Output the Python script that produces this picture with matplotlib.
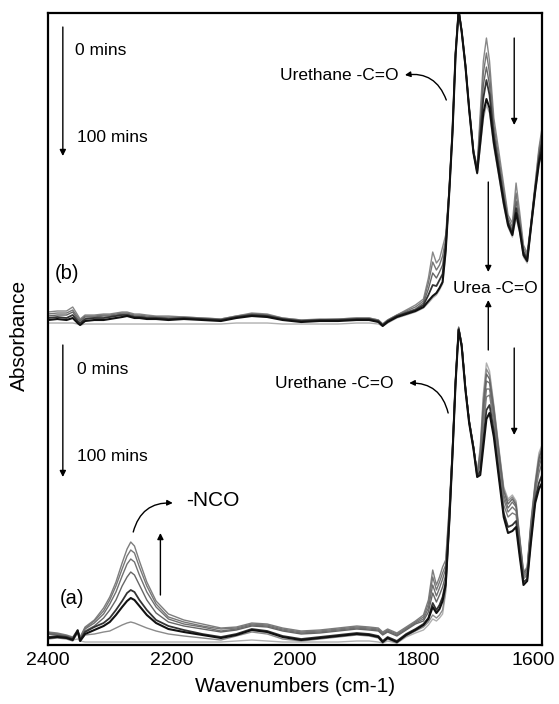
import matplotlib
matplotlib.use('Agg')
import matplotlib.pyplot as plt
import matplotlib.transforms as mtransforms

plt.rcParams['font.family'] = ['Liberation Sans', 'DejaVu Sans']

# wavenumber grid shared by all spectra (cm-1)
wavenumbers = [2400, 2385, 2370, 2360, 2352, 2348, 2340, 2325, 2310, 2300,
               2290, 2280, 2272, 2266, 2260, 2252, 2240, 2225, 2205, 2180,
               2150, 2120, 2095, 2070, 2045, 2020, 1990, 1960, 1930, 1900,
               1880, 1865, 1858, 1850, 1835, 1820, 1805, 1792, 1784, 1777,
               1771, 1766, 1761, 1756, 1750, 1745, 1740, 1735, 1730, 1724,
               1718, 1711, 1705, 1700, 1695, 1690, 1685, 1678, 1670, 1662,
               1655, 1648, 1642, 1636, 1630, 1624, 1618, 1611, 1605, 1600]

# spectra (a), absorbance in arbitrary units
a_1 = [13, 12, 10, 8, 15, 8, 18, 25, 37, 48, 63, 82, 96, 103, 99, 84, 63, 44, 31, 25,
       21, 17, 18, 22, 21, 17, 14, 15, 17, 19, 18, 17, 13, 16, 12, 18, 24,
       30, 45, 75, 60, 68, 78, 85, 140, 198, 266, 317, 301, 258, 225, 199, 172, 180, 218,
       248, 250, 222, 180, 140, 128, 132, 130, 98, 66, 70, 112, 152, 172, 182]
a_2 = [12, 11, 9, 7, 14, 7, 17, 24, 34, 45, 59, 76, 89, 95, 92, 78, 59, 41, 28, 23,
       19, 16, 17, 21, 20, 16, 13, 14, 16, 18, 17, 16, 12, 15, 11, 17, 23,
       28, 41, 68, 55, 63, 72, 80, 137, 196, 265, 317, 300, 257, 224, 198, 171, 184, 226,
       256, 256, 228, 186, 146, 133, 138, 134, 100, 68, 72, 116, 156, 178, 188]
a_3 = [12, 11, 9, 7, 14, 7, 16, 22, 31, 41, 53, 69, 81, 86, 83, 70, 53, 38, 26, 21,
       18, 14, 16, 20, 19, 15, 12, 13, 15, 17, 16, 15, 11, 14, 10, 16, 22,
       26, 37, 60, 49, 57, 66, 76, 134, 195, 265, 318, 301, 258, 225, 199, 172, 188, 234,
       264, 262, 232, 190, 150, 137, 143, 138, 103, 70, 74, 118, 158, 182, 192]
a_4 = [11, 10, 9, 7, 14, 6, 14, 19, 27, 35, 45, 59, 68, 73, 70, 60, 45, 32, 23, 19,
       16, 13, 15, 19, 18, 14, 11, 12, 14, 16, 15, 14, 10, 13, 9, 15, 21,
       24, 33, 52, 43, 50, 58, 70, 131, 193, 264, 317, 300, 257, 224, 198, 171, 192, 240,
       271, 266, 236, 194, 154, 141, 146, 140, 105, 72, 76, 120, 160, 186, 196]
a_5 = [8, 9, 8, 6, 15, 5, 13, 18, 22, 27, 35, 44, 52, 55, 53, 45, 35, 25, 19, 15,
       11, 8, 11, 16, 14, 9, 6, 8, 10, 12, 11, 9, 4, 8, 4, 11, 16,
       21, 27, 42, 35, 40, 48, 63, 128, 192, 263, 316, 299, 256, 223, 197, 169, 174, 205,
       235, 240, 214, 172, 132, 118, 120, 124, 92, 63, 66, 106, 146, 162, 170]
a_6 = [7, 8, 7, 5, 14, 4, 11, 15, 19, 23, 30, 38, 44, 47, 45, 39, 30, 22, 16, 13,
       10, 7, 10, 15, 13, 8, 5, 7, 9, 11, 10, 8, 3, 7, 3, 10, 15,
       20, 26, 38, 32, 36, 44, 60, 125, 190, 262, 315, 298, 255, 222, 196, 168, 170, 198,
       226, 232, 208, 168, 128, 112, 114, 118, 88, 60, 64, 102, 142, 156, 162]
a_7 = [6, 7, 6, 4, 12, 4, 10, 11, 13, 14, 17, 20, 22, 23, 22, 20, 17, 14, 11, 9,
       7, 5, 9, 13, 11, 6, 4, 6, 8, 10, 9, 7, 2, 6, 2, 9, 14,
       18, 23, 30, 27, 30, 35, 55, 122, 188, 261, 316, 300, 257, 224, 198, 170, 196, 246,
       276, 270, 238, 196, 156, 144, 148, 142, 106, 73, 77, 122, 162, 188, 198]
a_8 = [13, 10, 7, 5, 6, 4, 3, 3, 3, 3, 3, 3, 3, 3, 3, 3, 3, 3, 3, 3,
       3, 3, 4, 5, 4, 3, 3, 3, 3, 4, 4, 3, 2, 4, 2, 8, 12,
       15, 20, 26, 24, 27, 31, 52, 120, 186, 260, 316, 300, 256, 223, 197, 170, 199, 251,
       282, 274, 240, 198, 158, 146, 150, 144, 108, 74, 78, 124, 164, 192, 200]

# spectra (b), relative to their own baseline
b_1 = [11, 12, 12, 16, 8, 4, 8, 8, 9, 9, 10, 11, 11, 10, 9, 9, 8, 7, 7, 6,
       5, 4, 7, 10, 9, 5, 3, 4, 4, 5, 5, 3, -1, 3, 8, 13, 18,
       24, 45, 71, 60, 64, 76, 88, 137, 194, 271, 314, 293, 259, 216, 173, 156, 210, 262,
       285, 262, 205, 172, 138, 108, 100, 140, 110, 78, 70, 100, 140, 175, 195]
b_2 = [9, 10, 10, 13, 6, 3, 7, 7, 8, 8, 9, 10, 10, 9, 8, 8, 7, 6, 6, 6,
       5, 4, 7, 9, 8, 5, 3, 3, 4, 5, 5, 3, -1, 3, 8, 12, 16,
       22, 40, 61, 53, 58, 67, 84, 136, 193, 270, 314, 292, 258, 215, 172, 155, 202, 250,
       270, 250, 198, 165, 133, 105, 96, 130, 104, 75, 68, 99, 138, 172, 190]
b_3 = [7, 8, 8, 11, 4, 2, 6, 6, 7, 7, 8, 9, 9, 8, 7, 7, 6, 6, 5, 5,
       4, 3, 6, 9, 8, 4, 2, 3, 3, 4, 4, 2, -2, 2, 7, 11, 14,
       20, 34, 50, 45, 51, 58, 80, 135, 192, 270, 313, 292, 258, 215, 172, 153, 195, 238,
       256, 238, 192, 160, 128, 102, 93, 122, 99, 72, 66, 97, 136, 168, 185]
b_4 = [5, 6, 5, 8, 2, 0, 4, 5, 5, 6, 7, 8, 8, 7, 6, 6, 5, 5, 4, 5,
       4, 3, 6, 8, 7, 4, 2, 3, 3, 4, 4, 2, -2, 2, 7, 10, 13,
       18, 28, 38, 37, 43, 49, 76, 134, 191, 269, 313, 291, 257, 214, 171, 152, 188, 225,
       243, 228, 186, 155, 124, 100, 90, 115, 95, 70, 64, 96, 134, 164, 180]
b_5 = [3, 4, 3, 5, 0, -2, 2, 3, 3, 4, 5, 6, 7, 6, 5, 5, 4, 4, 3, 4,
       3, 2, 5, 7, 6, 3, 1, 2, 2, 3, 3, 1, -3, 1, 6, 9, 12,
       16, 22, 27, 30, 35, 41, 72, 133, 190, 268, 312, 291, 257, 214, 170, 150, 180, 210,
       224, 215, 180, 150, 120, 98, 88, 110, 92, 68, 62, 95, 132, 160, 172]
b_6 = [0, 0, 0, 0, -1, -2, -1, -1, -1, -1, -1, -1, -1, -1, -1, -1, -1, -1, -1, -1,
       -1, -1, 0, 0, 0, -1, -1, -1, -1, 0, 0, -1, -3, 0, 5, 8, 11,
       15, 20, 25, 28, 33, 39, 70, 132, 189, 268, 312, 290, 256, 213, 170, 149, 176, 204,
       218, 210, 176, 147, 117, 96, 86, 105, 90, 66, 60, 93, 130, 157, 170]

offset_b = 322

fig = plt.figure(figsize=(5.59, 7.04), dpi=100)
ax = fig.add_axes([0.0859, 0.0838, 0.8837, 0.8977])

# (a) curves
for y, c, lw in [(a_8, '#b0b0b0', 1.0), (a_7, '#8a8a8a', 1.0), (a_1, '#7d7d7d', 1.0),
                 (a_2, '#777777', 1.0), (a_3, '#707070', 1.0), (a_4, '#666666', 1.0),
                 (a_5, '#333333', 1.3), (a_6, '#111111', 1.5)]:
    ax.plot(wavenumbers, y, color=c, lw=lw)

# (b) curves, stacked above
for y, c, lw in [(b_6, '#b0b0b0', 1.0), (b_1, '#888888', 1.0), (b_2, '#777777', 1.0),
                 (b_3, '#666666', 1.0), (b_4, '#333333', 1.3), (b_5, '#111111', 1.5)]:
    ax.plot(wavenumbers, [v + offset_b for v in y], color=c, lw=lw)

ax.set_xlim(2400, 1600)
ax.set_ylim(0, 632)
ax.set_xticks([2400, 2200, 2000, 1800, 1600])
ax.set_yticks([])
ax.tick_params(axis='x', length=0, pad=5, labelsize=14)
for s in ax.spines.values():
    s.set_linewidth(1.6)

# keep the last tick label inside the figure
last = ax.get_xticklabels()[-1]
last.set_transform(last.get_transform() +
                   mtransforms.ScaledTranslation(-6 / 72, 0, fig.dpi_scale_trans))

ax.set_xlabel('Wavenumbers (cm-1)', fontsize=15)
ax.xaxis.label.set_va('center')
ax.xaxis.set_label_coords(0.5, -0.066)
ax.set_ylabel('Absorbance', fontsize=15)
ax.yaxis.label.set_va('center')
ax.yaxis.set_label_coords(-0.057, 0.49)


def arrow(x0, y0, x1, y1, rad=0.0, ms=9):
    ax.annotate('', xy=(x1, y1), xytext=(x0, y0),
                arrowprops=dict(arrowstyle='-|>', color='black', lw=1.0,
                                mutation_scale=ms, shrinkA=0, shrinkB=0,
                                connectionstyle='arc3,rad=%s' % rad))


# (b) annotations
arrow(2376, 618, 2376, 489)
ax.text(2356, 595, '0 mins', fontsize=12.5, va='center')
ax.text(2353, 508, '100 mins', fontsize=12.5, va='center')
ax.text(2389, 372, '(b)', fontsize=14.5, va='center')
ax.text(1833, 570, 'Urethane -C=O', fontsize=12.5, va='center', ha='right')
arrow(1755, 545, 1822, 570, rad=0.4, ms=8)
arrow(1645, 607, 1645, 520)
arrow(1687, 463, 1687, 373)
ax.text(1676, 357, 'Urea -C=O', fontsize=12.5, va='center', ha='center')
arrow(1687, 295, 1687, 345)

# (a) annotations
arrow(2376, 300, 2376, 168)
ax.text(2353, 276, '0 mins', fontsize=12.5, va='center')
ax.text(2353, 189, '100 mins', fontsize=12.5, va='center')
ax.text(2381, 47, '(a)', fontsize=14.5, va='center')
ax.text(1840, 262, 'Urethane -C=O', fontsize=12.5, va='center', ha='right')
arrow(1752, 232, 1815, 262, rad=0.4, ms=8)
arrow(1645, 297, 1645, 210)
arrow(2218, 50, 2218, 112)
arrow(2262, 113, 2198, 142, rad=-0.4, ms=8)
ax.text(2176, 145, '-NCO', fontsize=15, va='center')

plt.savefig('out.png', dpi=100)
